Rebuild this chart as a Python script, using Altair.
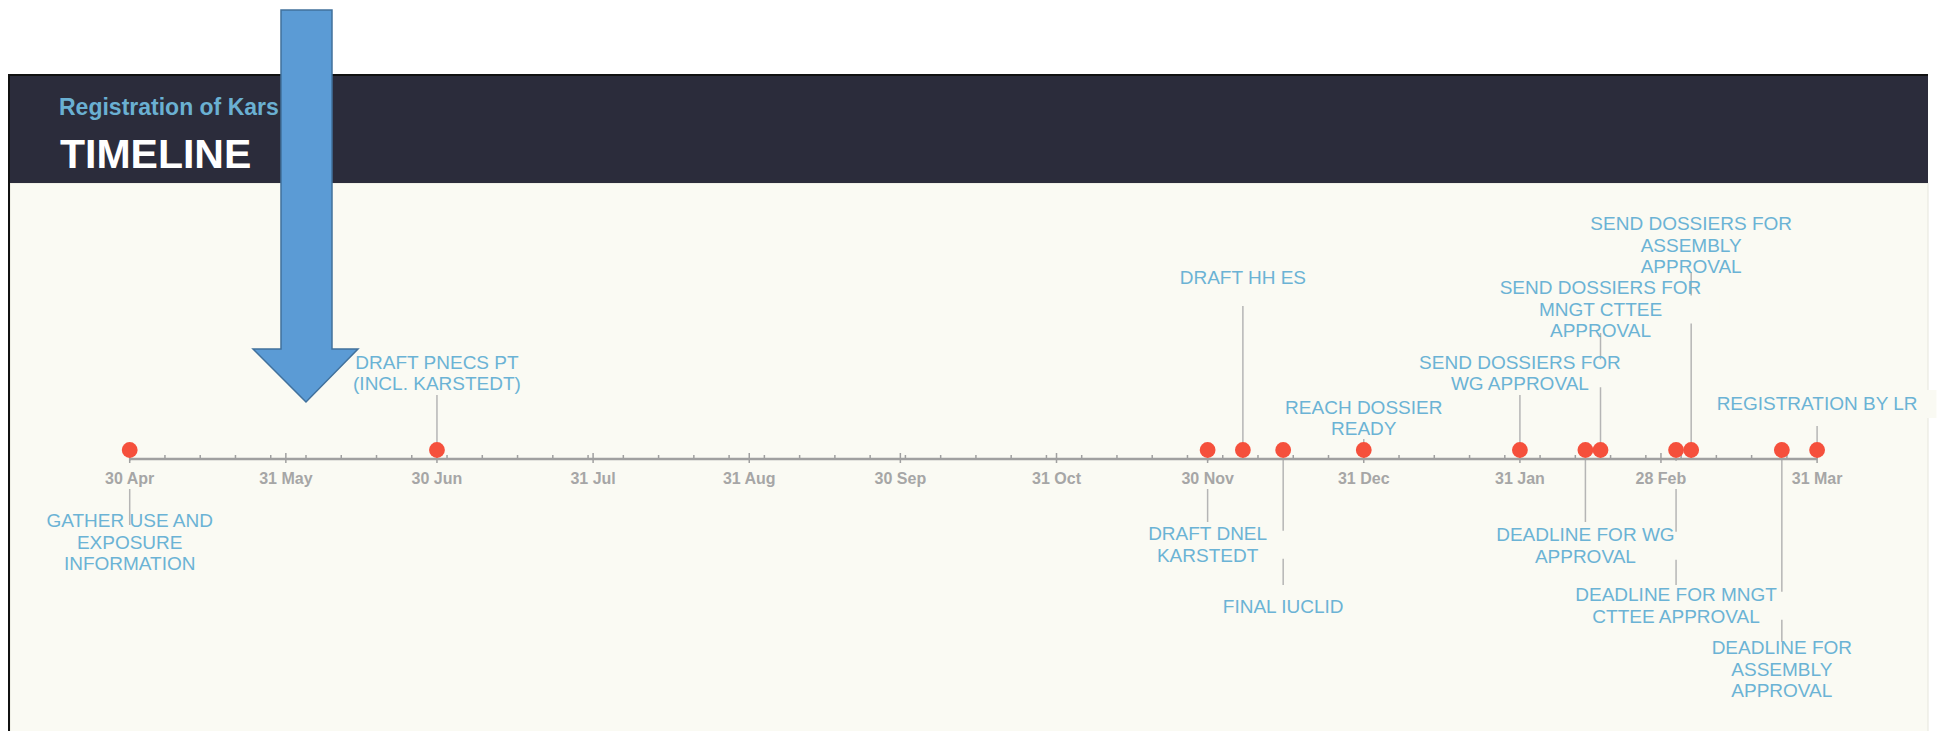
import altair as alt
import pandas as pd

# ---------------- data ----------------
event_dates = ["2012-04-30", "2012-06-30", "2012-11-30", "2012-12-07", "2012-12-15",
               "2012-12-31", "2013-01-31", "2013-02-13", "2013-02-16", "2013-03-03",
               "2013-03-06", "2013-03-24", "2013-03-31"]
event_labels = [
    "GATHER USE AND|EXPOSURE|INFORMATION",
    "DRAFT PNECS PT|(INCL. KARSTEDT)",
    "DRAFT DNEL|KARSTEDT",
    "DRAFT HH ES",
    "FINAL IUCLID",
    "REACH DOSSIER|READY",
    "SEND DOSSIERS FOR|WG APPROVAL",
    "DEADLINE FOR WG|APPROVAL",
    "SEND DOSSIERS FOR|MNGT CTTEE|APPROVAL",
    "DEADLINE FOR MNGT|CTTEE APPROVAL",
    "SEND DOSSIERS FOR|ASSEMBLY|APPROVAL",
    "DEADLINE FOR|ASSEMBLY|APPROVAL",
    "REGISTRATION BY LR",
]
# stem end and label anchor, measured from the time line (positive = above)
stem_levels = [-66, 64, -63, 153, -126, 20, 64, -63, 126, -126, 187, -183, 33]
label_levels = [-62, 75, -75, 181, -148, 30, 75, -76, 128, -136, 192, -189, 55]

tick_dates = ["2012-04-30", "2012-05-31", "2012-06-30", "2012-07-31", "2012-08-31",
              "2012-09-30", "2012-10-31", "2012-11-30", "2012-12-31", "2013-01-31",
              "2013-02-28", "2013-03-31"]
tick_labels = ["30 Apr", "31 May", "30 Jun", "31 Jul", "31 Aug", "30 Sep",
               "31 Oct", "30 Nov", "31 Dec", "31 Jan", "28 Feb", "31 Mar"]

current_date = "2012-06-04"   # where the big arrow points
current_level = 57

subtitle_text = "Registration of Kars"
title_text = "TIMELINE"

# ---------------- styling ----------------
W, H = 1937, 731
CREAM = "#fafaf3"
HEADER = "#2b2c3b"
TEXT_BLUE = "#6bb3d5"
DOT = "#f5503c"
AXIS_GREY = "#a0a0a0"
STEM = "#b5b5b5"
FONT = "Liberation Sans"
FS = 19
LH = 21.5

ARIAL = {"A": 667, "B": 667, "C": 722, "D": 722, "E": 667, "F": 611, "G": 778, "H": 722,
         "I": 278, "J": 500, "K": 667, "L": 556, "M": 833, "N": 722, "O": 778, "P": 667,
         "Q": 778, "R": 722, "S": 667, "T": 611, "U": 722, "V": 667, "W": 944, "X": 667,
         "Y": 667, "Z": 611, " ": 278, "(": 333, ")": 333, ".": 278}


def text_width(s, size):
    return sum(ARIAL.get(c, 556) for c in s) / 1000.0 * size


def rect_path(w, h):
    a, b = w / 2.0, h / 2.0
    return f"M{-a:.1f},{-b:.1f}H{a:.1f}V{b:.1f}H{-a:.1f}Z"


# ---------------- tables ----------------
events = pd.DataFrame({
    "date": pd.to_datetime(event_dates),
    "label": event_labels,
    "stem": stem_levels,
    "level": label_levels,
})

line_rows, box_rows = [], []
for d, lab, lev in zip(events["date"], event_labels, label_levels):
    parts = lab.split("|")
    n = len(parts)
    ys = []
    for i, p in enumerate(parts):
        y = lev + (n - 1 - i) * LH if lev > 0 else lev - i * LH
        ys.append(y)
        line_rows.append({"date": d, "y": y, "text": p})
    wmax = max(text_width(p, FS) for p in parts)
    box_rows.append({"date": d, "y": sum(ys) / n, "shape": rect_path(wmax + 36, 28)})
lines = pd.DataFrame(line_rows)
boxes = pd.DataFrame(box_rows)

ticks = pd.DataFrame({"date": pd.to_datetime(tick_dates), "label": tick_labels,
                      "shape": rect_path(60, 28)})
minor = pd.DataFrame({"date": pd.date_range(tick_dates[0], tick_dates[-1], freq="7D")})
axis_line = pd.DataFrame({"start": [pd.Timestamp(tick_dates[0])],
                          "end": [pd.Timestamp(tick_dates[-1])]})
arrow = pd.DataFrame({"date": [pd.Timestamp(current_date)], "lvl": [current_level]})
one = pd.DataFrame({"k": [0]})

# ---------------- scales ----------------
x0 = pd.Timestamp(tick_dates[0])
x1 = pd.Timestamp(tick_dates[-1])
xscale = alt.Scale(domain=[alt.DateTime(year=x0.year, month=x0.month, date=x0.day),
                           alt.DateTime(year=x1.year, month=x1.month, date=x1.day)],
                   range=[129.7, 1817.1], nice=False)
AXIS_Y = 459
yscale = alt.Scale(domain=[AXIS_Y, AXIS_Y - H], range=[0, H], nice=False, zero=False)


def X(f="date:T"):
    return alt.X(f, scale=xscale, axis=None)


def Yf(f):
    return alt.Y(f, scale=yscale, axis=None)


def Yd(v):
    return alt.YDatum(v, type="quantitative", scale=yscale, axis=None)


# ---------------- layers ----------------
panel = alt.Chart(one).mark_rect(color=CREAM, stroke="#e6e6dc", strokeWidth=1).encode(
    x=alt.value(10), x2=alt.value(1928), y=alt.value(183), y2=alt.value(H + 2))
header = alt.Chart(one).mark_rect(color=HEADER).encode(
    x=alt.value(9), x2=alt.value(1928), y=alt.value(74), y2=alt.value(183))
header_top = alt.Chart(one).mark_rule(color="#111111", strokeWidth=2).encode(
    x=alt.value(9), x2=alt.value(1928), y=alt.value(75))
left_border = alt.Chart(one).mark_rule(color="#111111", strokeWidth=2).encode(
    x=alt.value(9), y=alt.value(74), y2=alt.value(H))
subtitle = alt.Chart(one).mark_text(
    text=subtitle_text, align="left", baseline="alphabetic", font=FONT,
    fontSize=23, fontWeight="bold", color="#6ab0d2").encode(
    x=alt.value(59), y=alt.value(115))
title = alt.Chart(one).mark_text(
    text=title_text, align="left", baseline="alphabetic", font=FONT,
    fontSize=41, fontWeight="bold", color="white").encode(
    x=alt.value(60), y=alt.value(168))

stems = alt.Chart(events).mark_rule(color=STEM, strokeWidth=1.5).encode(
    x=X(), y=Yf("stem:Q"), y2=alt.Y2Datum(0))

label_boxes = alt.Chart(boxes).mark_point(
    filled=True, fill=CREAM, strokeWidth=0, opacity=1, size=4).encode(
    x=X(), y=Yf("y:Q"), shape=alt.Shape("shape:N", scale=None, legend=None))

tick_boxes = alt.Chart(ticks).mark_point(
    filled=True, fill=CREAM, strokeWidth=0, opacity=1, size=4).encode(
    x=X(), y=Yd(-16), shape=alt.Shape("shape:N", scale=None, legend=None))

base_line = alt.Chart(axis_line).mark_rule(color=AXIS_GREY, strokeWidth=2.4).encode(
    x=X("start:T"), x2="end:T", y=Yd(0))

major_ticks = alt.Chart(ticks).mark_rule(color=AXIS_GREY, strokeWidth=1.5).encode(
    x=X(), y=Yd(6), y2=alt.Y2Datum(-4))

minor_ticks = alt.Chart(minor).mark_rule(color=AXIS_GREY, strokeWidth=1.5).encode(
    x=X(), y=Yd(4), y2=alt.Y2Datum(0))

tick_text = alt.Chart(ticks).mark_text(
    font=FONT, fontSize=16, fontWeight="bold", color="#a6a6a6",
    align="center", baseline="middle").encode(
    x=X(), y=Yd(-20), text="label:N")

dots = alt.Chart(events).mark_circle(color=DOT, opacity=1, size=250).encode(
    x=X(), y=Yd(9))

event_text = alt.Chart(lines).mark_text(
    font=FONT, fontSize=FS, color=TEXT_BLUE, align="center", baseline="middle").encode(
    x=X(), y=Yf("y:Q"), text="text:N")

ARROW_PATH = "M0,0L-53,-53L-25,-53L-25,-392L26,-392L26,-53L52,-53Z"
arrow_mark = alt.Chart(arrow).mark_point(
    shape=ARROW_PATH, filled=True, fill="#5b9bd5", stroke="#41719c",
    strokeWidth=1.5, opacity=1, size=4).encode(
    x=X(), y=Yf("lvl:Q"))

chart = alt.layer(
    panel, header, header_top, left_border, subtitle, title,
    stems, label_boxes, tick_boxes, base_line, major_ticks, minor_ticks,
    tick_text, dots, event_text, arrow_mark,
).properties(
    width=W, height=H, padding=0, background="white",
    autosize=alt.AutoSizeParams(type="none"),
).configure_view(stroke=None)

chart.save("out.html", embed_options={"renderer": "svg", "actions": False})
